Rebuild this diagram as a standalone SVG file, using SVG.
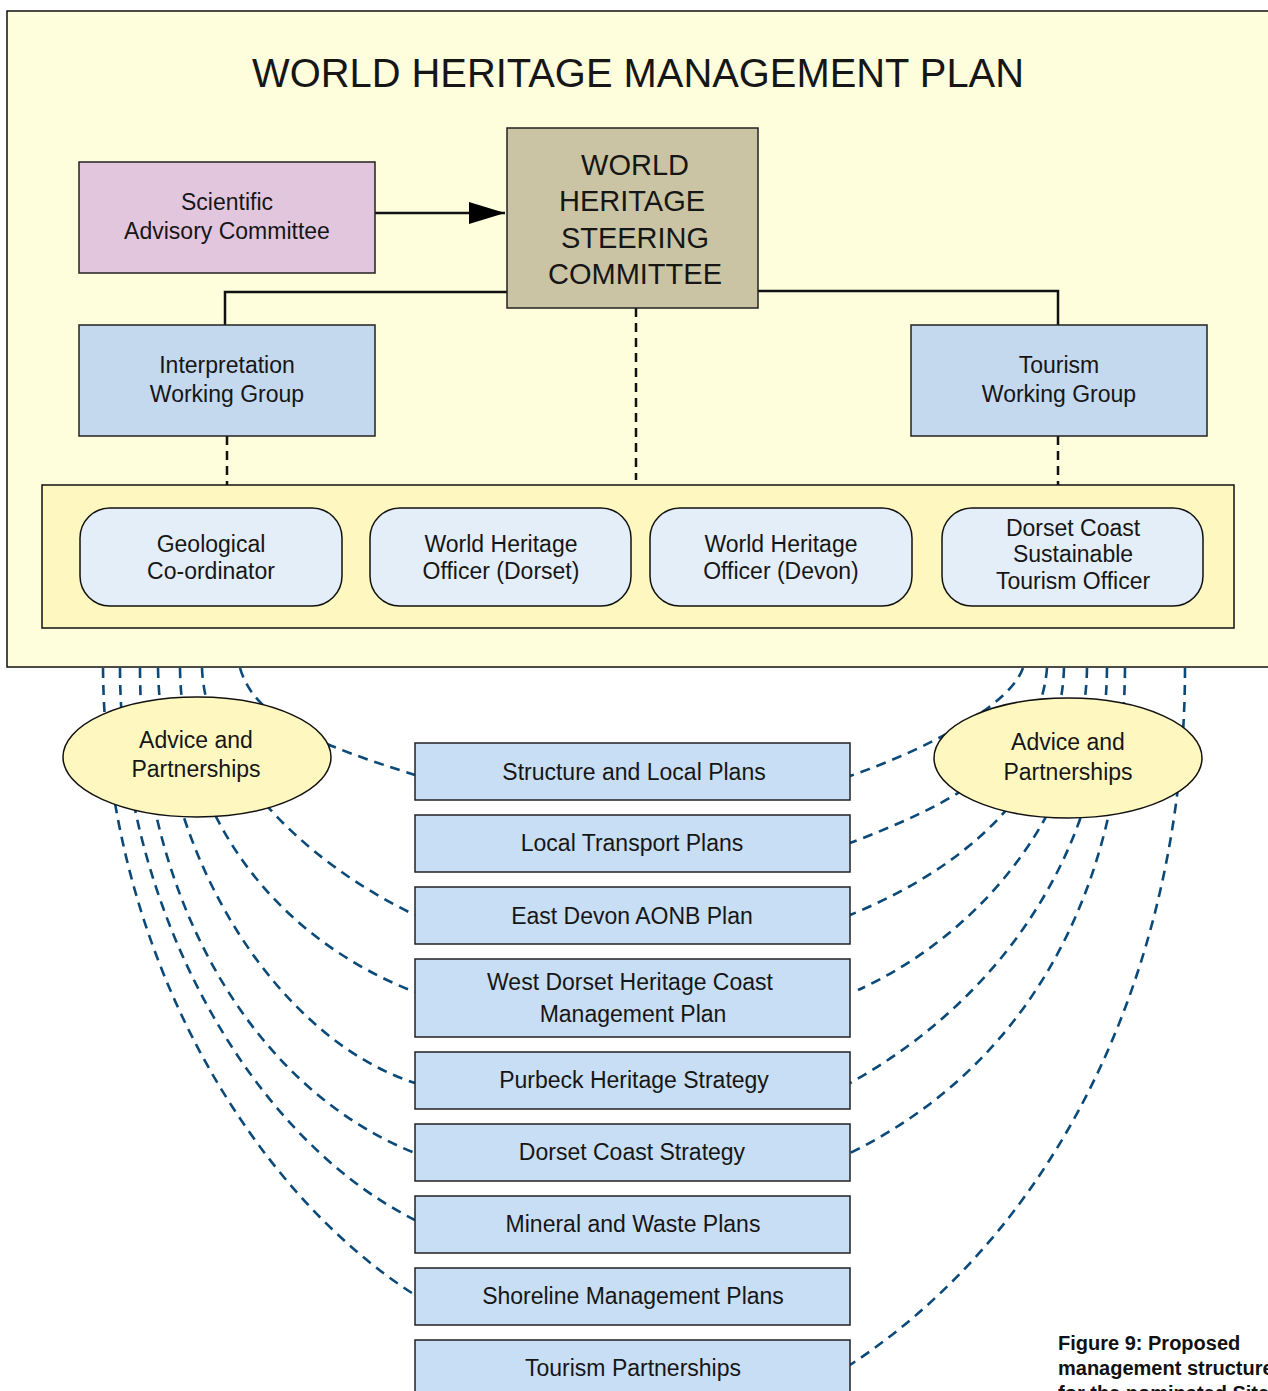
<svg xmlns="http://www.w3.org/2000/svg" width="1268" height="1391" viewBox="0 0 1268 1391">
<defs>
<style>
text{font-family:"Liberation Sans",Arial,sans-serif;fill:#161616;text-anchor:middle}
.t22{font-size:23px}
.box{stroke:#222;stroke-width:1.5}
.wg{fill:#c4d8ee}
.plan{fill:#c8def4;stroke:#222;stroke-width:1.5}
.rnd{fill:#e4eef8;stroke:#111;stroke-width:1.5}
.ell{fill:#fef8c0;stroke:#111;stroke-width:1.5}
.blue{fill:none;stroke:#0b4a78;stroke-width:2.6;stroke-dasharray:10 7}
.blk{fill:none;stroke:#111;stroke-width:2.5}
.blkd{fill:none;stroke:#111;stroke-width:2.5;stroke-dasharray:9 6}
.cap{font-size:20px;font-weight:bold;text-anchor:start;fill:#111}
.sc{font-size:29px}
</style>
<marker id="ah" viewBox="0 0 36 22" refX="36" refY="11" markerWidth="36" markerHeight="22" markerUnits="userSpaceOnUse" orient="auto">
<path d="M0,0 L36,11 L0,22 Z" fill="#000"/>
</marker>
</defs>

<g id="panel">
<rect x="7" y="11" width="1280" height="656" fill="#fefddc" stroke="#111" stroke-width="1.5"/>
<text x="638" y="87" style="font-size:40px" textLength="772" lengthAdjust="spacingAndGlyphs">WORLD HERITAGE MANAGEMENT PLAN</text>
</g>

<g id="connectors">
<path class="blk" d="M375,213 H505" marker-end="url(#ah)"/>
<path class="blk" d="M507,292 H225 V325"/>
<path class="blk" d="M758,291 H1058 V325"/>
<path class="blkd" d="M636,308 V480"/>
<path class="blkd" d="M227,436 V485"/>
<path class="blkd" d="M1058,436 V485"/>
<!-- left advice curves -->
<path class="blue" d="M240,668 C255,720 320,745 415,775"/>
<path class="blue" d="M202,668 C205,760 300,860 415,915"/>
<path class="blue" d="M180,668 C182,820 280,940 415,992"/>
<path class="blue" d="M158,668 C162,860 280,1040 415,1083"/>
<path class="blue" d="M140,668 C140,900 255,1090 415,1153"/>
<path class="blue" d="M120,668 C120,900 245,1135 415,1220"/>
<path class="blue" d="M103,668 C105,950 250,1190 415,1295"/>
<!-- right advice curves -->
<path class="blue" d="M1023,668 C1010,705 930,748 850,776"/>
<path class="blue" d="M1047,668 C1040,760 950,805 850,843"/>
<path class="blue" d="M1064,668 C1060,790 960,870 850,915"/>
<path class="blue" d="M1087,668 C1085,800 990,930 858,990"/>
<path class="blue" d="M1107,668 C1105,850 1000,1000 850,1083"/>
<path class="blue" d="M1125,668 C1123,900 1020,1070 850,1153"/>
<path class="blue" d="M1185,668 C1185,950 1070,1220 850,1365"/>
</g>

<g id="scientific">
<rect class="box" x="79" y="162" width="296" height="111" fill="#e2c6de"/>
<text class="t22" x="227" y="210">Scientific</text>
<text class="t22" x="227" y="239">Advisory Committee</text>
</g>

<g id="steering">
<rect class="box" x="507" y="128" width="251" height="180" fill="#cbc4a4"/>
<text class="sc" x="635" y="175">WORLD</text>
<text class="sc" x="632" y="211">HERITAGE</text>
<text class="sc" x="635" y="248">STEERING</text>
<text class="sc" x="635" y="284">COMMITTEE</text>
</g>

<g id="interpretation">
<rect class="box wg" x="79" y="325" width="296" height="111"/>
<text class="t22" x="227" y="373">Interpretation</text>
<text class="t22" x="227" y="402">Working Group</text>
</g>

<g id="tourism-wg">
<rect class="box wg" x="911" y="325" width="296" height="111"/>
<text class="t22" x="1059" y="373">Tourism</text>
<text class="t22" x="1059" y="402">Working Group</text>
</g>

<g id="officers-band">
<rect x="42" y="485" width="1192" height="143" fill="#fef8c0" stroke="#111" stroke-width="1.5"/>
</g>

<g id="geological">
<rect class="rnd" x="80" y="508" width="262" height="98" rx="30"/>
<text class="t22" x="211" y="552">Geological</text>
<text class="t22" x="211" y="579">Co-ordinator</text>
</g>

<g id="who-dorset">
<rect class="rnd" x="370" y="508" width="261" height="98" rx="30"/>
<text class="t22" x="501" y="552">World Heritage</text>
<text class="t22" x="501" y="579">Officer (Dorset)</text>
</g>

<g id="who-devon">
<rect class="rnd" x="650" y="508" width="262" height="98" rx="30"/>
<text class="t22" x="781" y="552">World Heritage</text>
<text class="t22" x="781" y="579">Officer (Devon)</text>
</g>

<g id="tourism-officer">
<rect class="rnd" x="942" y="508" width="261" height="98" rx="30"/>
<text class="t22" x="1073" y="536">Dorset Coast</text>
<text class="t22" x="1073" y="562">Sustainable</text>
<text class="t22" x="1073" y="589">Tourism Officer</text>
</g>

<g id="advice-left">
<ellipse class="ell" cx="197" cy="757" rx="134" ry="60"/>
<text class="t22" x="196" y="748">Advice and</text>
<text class="t22" x="196" y="777">Partnerships</text>
</g>

<g id="advice-right">
<ellipse class="ell" cx="1068" cy="758" rx="134" ry="60"/>
<text class="t22" x="1068" y="750">Advice and</text>
<text class="t22" x="1068" y="780">Partnerships</text>
</g>

<g id="plan-structure">
<rect class="plan" x="415" y="743" width="435" height="57"/>
<text class="t22" x="634" y="780">Structure and Local Plans</text>
</g>
<g id="plan-transport">
<rect class="plan" x="415" y="815" width="435" height="57"/>
<text class="t22" x="632" y="851">Local Transport Plans</text>
</g>
<g id="plan-eastdevon">
<rect class="plan" x="415" y="887" width="435" height="57"/>
<text class="t22" x="632" y="924">East Devon AONB Plan</text>
</g>
<g id="plan-westdorset">
<rect class="plan" x="415" y="959" width="435" height="78"/>
<text class="t22" x="630" y="990">West Dorset Heritage Coast</text>
<text class="t22" x="633" y="1022">Management Plan</text>
</g>
<g id="plan-purbeck">
<rect class="plan" x="415" y="1052" width="435" height="57"/>
<text class="t22" x="634" y="1088">Purbeck Heritage Strategy</text>
</g>
<g id="plan-dorsetcoast">
<rect class="plan" x="415" y="1124" width="435" height="57"/>
<text class="t22" x="632" y="1160">Dorset Coast Strategy</text>
</g>
<g id="plan-mineral">
<rect class="plan" x="415" y="1196" width="435" height="57"/>
<text class="t22" x="633" y="1232">Mineral and Waste Plans</text>
</g>
<g id="plan-shoreline">
<rect class="plan" x="415" y="1268" width="435" height="57"/>
<text class="t22" x="633" y="1304">Shoreline Management Plans</text>
</g>
<g id="plan-tourism">
<rect class="plan" x="415" y="1340" width="435" height="70"/>
<text class="t22" x="633" y="1376">Tourism Partnerships</text>
</g>

<g id="caption">
<text class="cap" x="1058" y="1350">Figure 9: Proposed</text>
<text class="cap" x="1058" y="1375">management structure</text>
<text class="cap" x="1058" y="1400">for the nominated Site</text>
</g>
</svg>
